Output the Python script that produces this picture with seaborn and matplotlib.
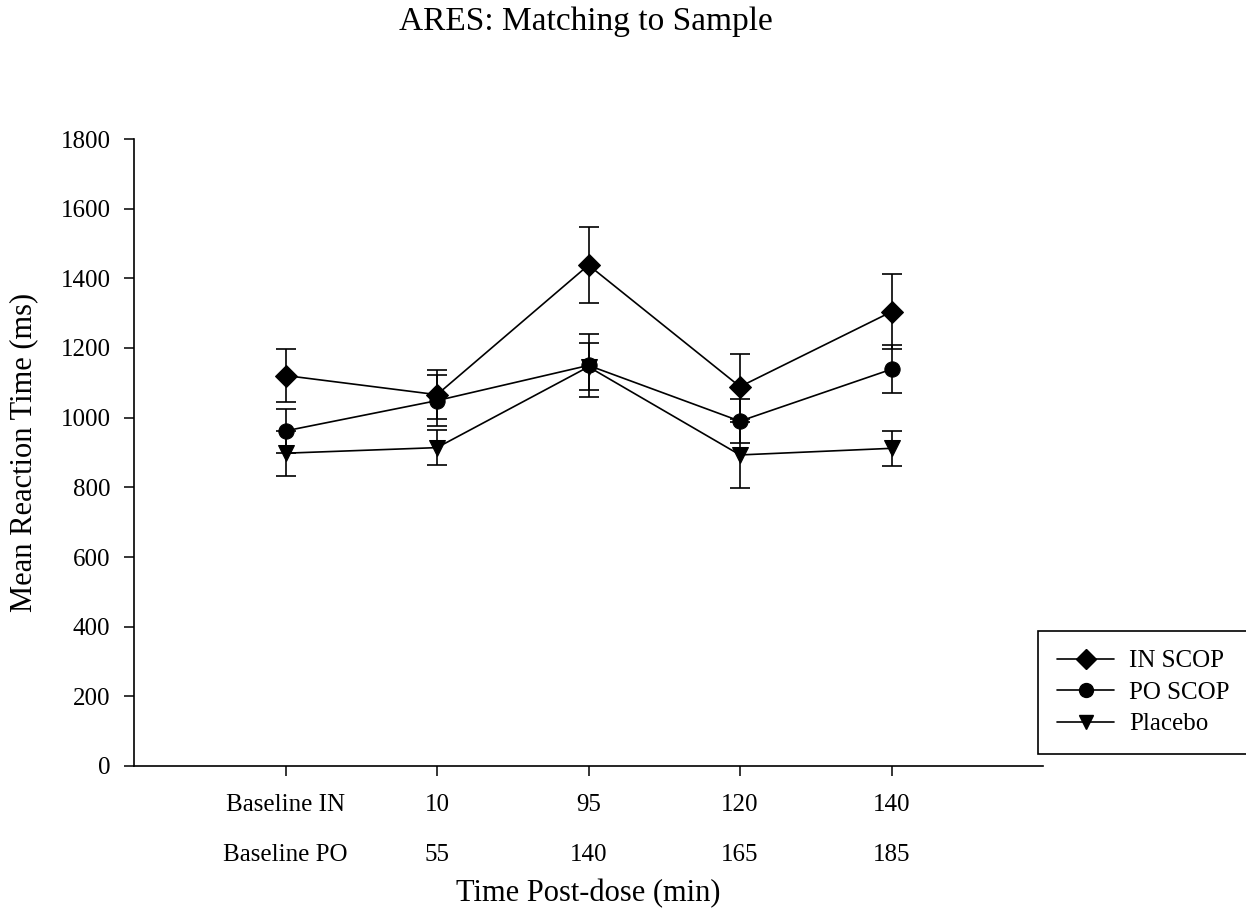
import numpy as np
import pandas as pd
import matplotlib
matplotlib.use("Agg")
import matplotlib.pyplot as plt
import matplotlib.transforms as mtransforms
from matplotlib.lines import Line2D
import seaborn as sns

# ---- data ----
positions = [0, 1, 2, 3, 4]
labels_in = ["Baseline IN", "10", "95", "120", "140"]
labels_po = ["Baseline PO", "55", "140", "165", "185"]
groups = ["IN SCOP", "PO SCOP", "Placebo"]
in_scop = [1121, 1066, 1438, 1089, 1304]
in_err = [75, 71, 110, 94, 108]
po_scop = [962, 1049, 1150, 990, 1139]
po_err = [62, 74, 90, 64, 69]
placebo = [898, 914, 1146, 893, 912]
placebo_err = [65, 50, 67, 94, 50]
yticks = [0, 200, 400, 600, 800, 1000, 1200, 1400, 1600, 1800]

sns.set_style("ticks")
plt.rcParams["font.family"] = ["Liberation Serif", "DejaVu Serif"]
for k in ["text.color", "axes.labelcolor", "xtick.color", "ytick.color", "axes.edgecolor"]:
    plt.rcParams[k] = "black"

df = pd.DataFrame({
    "pos": positions * 3,
    "val": in_scop + po_scop + placebo,
    "err": in_err + po_err + placebo_err,
    "group": [g for g in groups for _ in positions],
})

W, H = 1246, 915
fig = plt.figure(figsize=(W / 100, H / 100), dpi=100)
ax = fig.add_axes([134 / W, 1 - 766 / H, (1043 - 134) / W, (766 - 139) / H])

markers = {"IN SCOP": "D", "PO SCOP": "o", "Placebo": "v"}

for g in groups:
    sub = df[df.group == g]
    ax.errorbar(sub["pos"], sub["val"], yerr=sub["err"], fmt="none",
                ecolor="black", elinewidth=1.2, capsize=7, capthick=1.2, zorder=2)

sns.lineplot(data=df, x="pos", y="val", hue="group", style="group",
             markers=markers, dashes=False, palette=["black"] * 3,
             linewidth=1.2, ax=ax, legend=False, zorder=3,
             markeredgecolor="black", markersize=11)

ax.set_xlim(-1.0, 5.0)
ax.set_ylim(0, 1800)
ax.set_yticks(yticks)
ax.set_yticklabels([str(v) for v in yticks], fontsize=18)
ax.set_xticks(positions)
ax.set_xticklabels(labels_in, fontsize=18)
ax.tick_params(axis="x", length=7, width=1.1, pad=13, direction="out")
ax.tick_params(axis="y", length=7, width=1.1, pad=10, direction="out")
trans = mtransforms.blended_transform_factory(ax.transData, fig.transFigure)
for p, lab in zip(positions, labels_po):
    ax.text(p, 1 - 855 / H, lab, transform=trans, ha="center", va="center", fontsize=18)

for s in ["top", "right"]:
    ax.spines[s].set_visible(False)
for s in ["left", "bottom"]:
    ax.spines[s].set_color("black")
    ax.spines[s].set_linewidth(1.2)

ax.set_xlabel("")
ax.set_ylabel("")
fig.text(588 / W, 1 - 894 / H, "Time Post-dose (min)", fontsize=22, ha="center", va="center")
fig.text(24 / W, 1 - 452 / H, "Mean Reaction Time (ms)", fontsize=22, ha="center",
         va="center", rotation=90)
fig.text(586 / W, 1 - 22 / H, "ARES: Matching to Sample", fontsize=24, ha="center", va="center")

handles = [Line2D([0], [0], color="black", lw=1.2, marker=markers[g],
                  markersize=10, markerfacecolor="black") for g in groups]
leg = fig.legend(handles, groups, loc="upper left",
                 bbox_to_anchor=(1038 / W, 1 - 631 / H), bbox_transform=fig.transFigure,
                 fontsize=18, frameon=True, fancybox=False, edgecolor="black",
                 borderpad=0.75, borderaxespad=0, handlelength=2.3, handletextpad=0.6,
                 labelspacing=0.36)
leg.get_frame().set_linewidth(1.2)
leg.get_frame().set_facecolor("white")
leg.get_frame().set_alpha(1)

fig.savefig("out.png", dpi=100)
